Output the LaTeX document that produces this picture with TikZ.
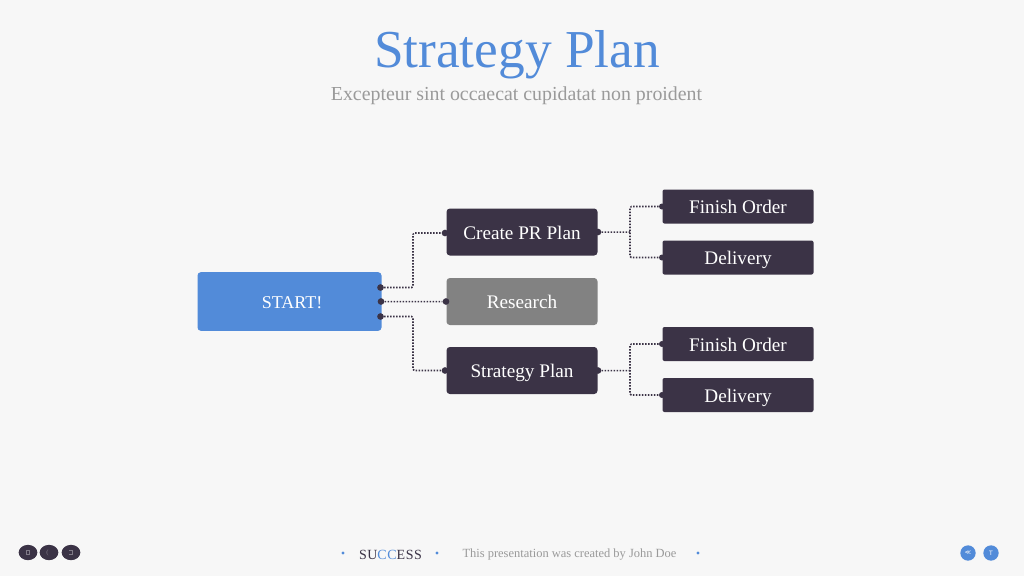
\documentclass[tikz,border=0pt]{standalone}
\usepackage{fontspec}
\setmainfont{Liberation Serif}
\newfontfamily\dvsans{DejaVu Sans}
\definecolor{bg}{HTML}{F7F7F7}
\definecolor{dark}{HTML}{3B3346}
\definecolor{blue}{HTML}{528BD9}
\definecolor{gr}{HTML}{828282}
\definecolor{sub}{HTML}{9A9A9A}
\usetikzlibrary{shapes.geometric}
\tikzset{
 x=0.75pt,y=-0.75pt,
 box/.style={rounded corners=2.5pt,inner sep=0,text=white,font=\fontsize{14.4}{16}\selectfont,align=center,text height=12.5pt,text depth=1.4pt},
 bigbox/.style={box,fill=dark,minimum width=113.25pt,minimum height=35.25pt},
 smallbox/.style={box,fill=dark,rounded corners=1.5pt,minimum width=113.25pt,minimum height=25.5pt},
 dot/.style={circle,fill=dark,inner sep=0,minimum size=5pt},
 smalldot/.style={dot,minimum size=4.5pt},
 link/.style={draw=dark,line width=1.15pt,dash pattern=on 1.15pt off 1.1pt,rounded corners=1pt},
 ic/.style={ellipse,fill=dark,inner sep=0,minimum width=14pt,minimum height=11.5pt},
 ib/.style={circle,fill=blue,inner sep=0,minimum size=11.5pt,text=white,font=\dvsans\fontsize{4.5}{5}\selectfont},
 sd/.style={circle,fill=blue,inner sep=0,minimum size=2.4pt},
 glyphline/.style={draw=white!35!dark,line width=.3pt},
}
\begin{document}
\begin{tikzpicture}
\path[use as bounding box,fill=bg] (0,0) rectangle (1024,576);
\node[text=blue,font=\fontsize{40}{44}\selectfont] (title) at (517,55) {Strategy Plan};
\node[text=sub,font=\fontsize{14.9}{17}\selectfont] (subtitle) at (516.5,95.5) {Excepteur sint occaecat cupidatat non proident};
\node[box,fill=blue,minimum width=138pt,minimum height=44pt,font=\fontsize{13.5}{16}\selectfont] (start) at (289.5,301.5) {\hspace*{4pt}START!};
\node[bigbox] (pr) at (522,232) {Create PR Plan};
\node[bigbox,fill=gr] (res) at (522,301.5) {Research};
\node[bigbox] (sp) at (522,370.5) {Strategy Plan};
\node[smallbox] (f1) at (738,206.5) {Finish Order};
\node[smallbox] (d1) at (738,257.5) {Delivery};
\node[smallbox] (f2) at (738,344) {Finish Order};
\node[smallbox] (d2) at (738,395) {Delivery};
\node[dot] (s1) at (380.5,287.5) {};
\node[dot] (s2) at (381,301.5) {};
\node[dot] (s3) at (380.5,316.5) {};
\node[dot] (prl) at (445,233) {};
\node[dot] (resl) at (446,301.5) {};
\node[dot] (spl) at (445,370.5) {};
\node[dot] (prr) at (598,232) {};
\node[dot] (spr) at (598,370.5) {};
\node[smalldot] (f1l) at (662,206.5) {};
\node[smalldot] (d1l) at (662,257.5) {};
\node[smalldot] (f2l) at (662,344) {};
\node[smalldot] (d2l) at (662,395) {};
\coordinate (m2) at (413,301.7);
\coordinate (m1) at (614,232.2);
\coordinate (m3) at (614,370.7);
\coordinate (j1) at (630,232);
\coordinate (j3) at (630,370.5);
\draw[link] (s1) -| (413,233) -- (prl);
\draw[link] (s2) -- (m2) -- (resl);
\draw[link] (s3) -| (413,370.5) -- (spl);
\draw[link] (prr) -- (m1) -- (j1);
\draw[link] (f1l) -| (630,257.5) -- (d1l);
\draw[link] (spr) -- (m3) -- (j3);
\draw[link] (f2l) -| (630,395) -- (d2l);
% footer
\node[ic] (i1) at (28,552.5) {};
\node[ic] (i2) at (49,552.5) {};
\node[ic] (i3) at (71,552.5) {};
\draw[glyphline] (26.5,550.5) rectangle (29.5,554.5);
\node[text=white!35!dark,font=\fontsize{5}{5}\selectfont,inner sep=0] (i2g) at (47.5,552.5) {(};
\draw[glyphline] (69,550.5) -- (72,550.5) -- (72,554.5) -- (69,554.5);
\node[sd] (fd1) at (343,553) {};
\node[sd] (fd2) at (437,553) {};
\node[sd] (fd3) at (698,553) {};
\node[font=\fontsize{10.5}{12}\selectfont\addfontfeature{LetterSpace=4},text=dark,inner sep=0] (logo) at (390.5,555) {SU\textcolor{blue}{CC}ESS};
\node[text=sub,font=\fontsize{9.35}{11}\selectfont,inner sep=0] (foot) at (569.5,554.5) {This presentation was created by John Doe};
\node[ib] (b1n) at (968,553) {≪};
\node[ib] (b2n) at (991,553) {T};
\end{tikzpicture}
\end{document}
